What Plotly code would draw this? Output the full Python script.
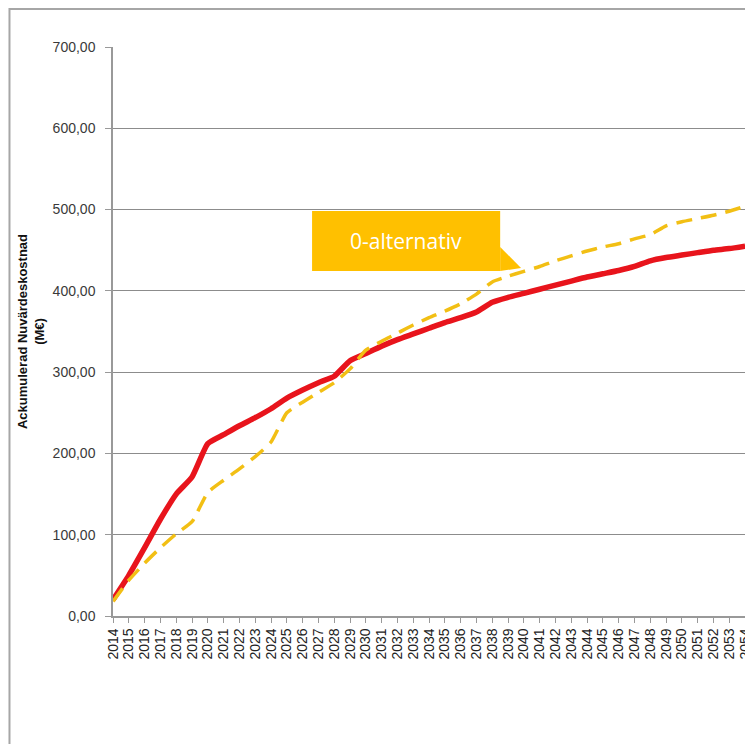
import plotly.graph_objects as go

years = list(range(2014, 2055))
year_labels = [str(y) for y in years]

utredningsalternativ = [20, 50, 84, 119, 150, 171, 212, 223, 234, 244, 255, 268, 278, 287, 295,
                        314, 323, 332, 340, 347, 354, 361, 367, 374, 386, 392, 397, 402, 407, 412,
                        417, 421, 425, 430, 437, 441, 444, 447, 450, 452, 455]
noll_alternativ = [18, 44, 65, 84, 101, 116, 152, 167, 181, 196, 214, 250, 263, 275, 287,
                   304, 327, 338, 348, 358, 367, 375, 384, 396, 411, 418, 424, 430, 437, 443,
                   449, 454, 458, 464, 469, 480, 485, 489, 493, 498, 504]

y_ticks = [0, 100, 200, 300, 400, 500, 600, 700]
y_tick_labels = ["0,00", "100,00", "200,00", "300,00", "400,00", "500,00", "600,00", "700,00"]

fig = go.Figure()
fig.add_trace(go.Scatter(x=years, y=utredningsalternativ, mode="lines",
                         line=dict(color="#E8141C", width=5.5, shape="spline", smoothing=0.5),
                         showlegend=False))
fig.add_trace(go.Scatter(x=years, y=noll_alternativ, mode="lines",
                         line=dict(color="#F2BF14", width=3.5, dash="16px,9px", shape="spline", smoothing=0.5),
                         showlegend=False))

# outer chart border
fig.add_shape(type="rect", xref="paper", yref="paper", x0=-0.1625, x1=1.2, y0=-0.35, y1=1.067,
              line=dict(color="#A6A6A6", width=2), fillcolor="rgba(0,0,0,0)", layer="below")

# callout box
fig.add_shape(type="rect", xref="paper", yref="paper", x0=0.3125, x1=0.6078, y0=0.6063, y1=0.7118,
              line=dict(width=0), fillcolor="#FFC000")
fig.add_shape(type="path", xref="paper", yref="paper",
              path="M 0.6078,0.6485 L 0.6406,0.6116 L 0.6078,0.6063 Z",
              line=dict(width=0), fillcolor="#FFC000")
fig.add_annotation(xref="paper", yref="paper", x=0.46, y=0.659, text="0-alternativ",
                   showarrow=False, font=dict(family="Open Sans", size=21, color="white"))

# page body has an 8px default margin: figure is sized and offset to compensate
fig.update_layout(
    width=745, height=736,
    margin=dict(l=105, r=0, t=39, b=128),
    paper_bgcolor="white", plot_bgcolor="white",
    font=dict(family="Liberation Sans, Arial", color="#222222"),
    xaxis=dict(range=[2014, 2054.31], tickmode="array", tickvals=years, ticktext=year_labels,
               tickangle=-90, tickfont=dict(size=14, color="#222222"), ticklabeloverflow="allow",
               ticks="outside", ticklen=5, tickcolor="#999999",
               showline=True, linecolor="#999999", linewidth=1.5, showgrid=False, zeroline=False),
    yaxis=dict(range=[0, 700], tickmode="array", tickvals=y_ticks, ticktext=y_tick_labels,
               tickfont=dict(size=14, color="#3A3A3A"),
               ticks="outside", ticklen=6, tickcolor="#999999", ticklabelstandoff=7,
               showline=True, linecolor="#999999", linewidth=1.5,
               showgrid=True, gridcolor="#8C8C8C", gridwidth=1.3, zeroline=False,
               title=dict(text="<b>Ackumulerad Nuvärdeskostnad<br>(M€)</b>",
                          font=dict(size=13, color="#111111"), standoff=5)),
)

fig.write_html("out.html")
